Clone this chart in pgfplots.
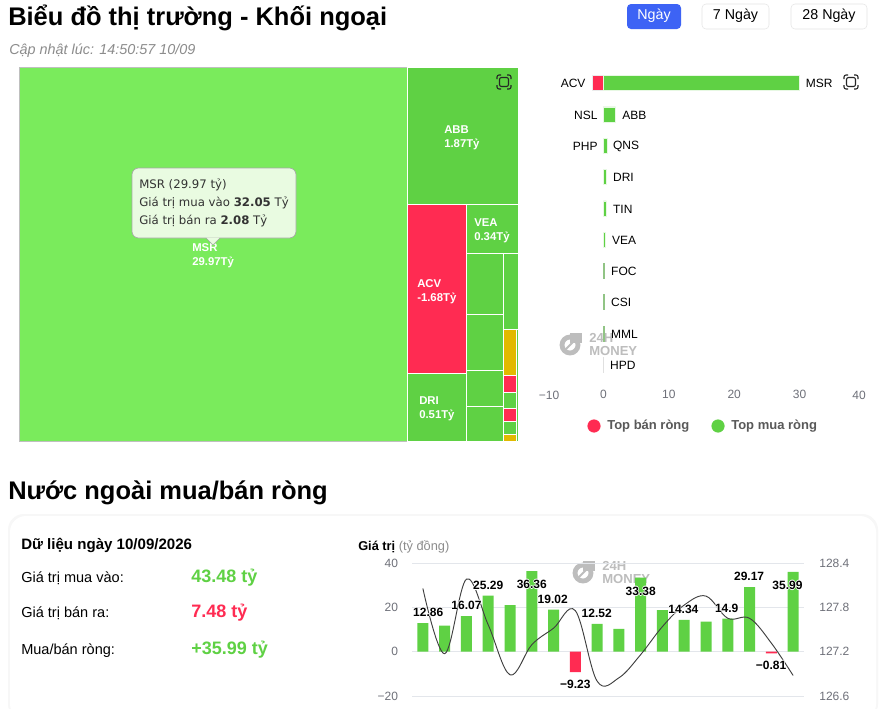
\documentclass[border=0pt]{standalone}
\usepackage{pgfplots}
\pgfplotsset{compat=1.18}
\usepackage{fontspec}
\setmainfont{Liberation Sans}
\newfontfamily\djv{DejaVu Sans}
\definecolor{lg}{HTML}{7AEB5C}
\definecolor{mg}{HTML}{5FD144}
\definecolor{rd}{HTML}{FF2B52}
\definecolor{yl}{HTML}{E2B900}
\definecolor{tickg}{HTML}{6E7079}
\definecolor{gridg}{HTML}{E3E6EB}
\definecolor{wm}{HTML}{BDBDBD}
\definecolor{btn}{HTML}{3D63F5}
\definecolor{tip}{HTML}{E9FBE1}
\newcommand\fsz[1]{\fontsize{#1}{#1}\selectfont}
\newcommand\tile[5]{\addplot[fill=#5,draw=white,line width=0.5pt] coordinates {(#1,#3) (#2,#3) (#2,#4) (#1,#4)} --cycle;}
\newcommand\HL[3]{%
\node[white,font=\fsz{9}\bfseries] at (axis cs:#1,#2) [xshift=.55pt] {#3};
\node[white,font=\fsz{9}\bfseries] at (axis cs:#1,#2) [xshift=-.55pt] {#3};
\node[white,font=\fsz{9}\bfseries] at (axis cs:#1,#2) [yshift=.55pt] {#3};
\node[white,font=\fsz{9}\bfseries] at (axis cs:#1,#2) [yshift=-.55pt] {#3};
\node[black,font=\fsz{9}\bfseries] at (axis cs:#1,#2) {#3};}
\newcommand\icon[2]{%
\begin{scope}[shift={(#1,#2)},draw=black!85,line width=0.8pt]
\draw[rounded corners=1.5] (-7,-3)--(-7,-7)--(-3,-7) (3,-7)--(7,-7)--(7,-3) (7,3)--(7,7)--(3,7) (-3,7)--(-7,7)--(-7,3);
\draw[rounded corners=1.5] (-4.5,-4.5) rectangle (4.5,4.5);
\end{scope}}
\newcommand\wmark[2]{%
\begin{scope}[shift={(#1,#2)}]
\draw[wm,line width=3.6pt] (12,12) circle (8);
\fill[wm] (12,0) rectangle (24,10);
\fill[white] (3,0) -- (8,0) -- (0,6) --cycle;
\fill[white] (20,24) -- (24,24) -- (24,17) --cycle;
\draw[wm,line width=1.4pt] (8,16)--(17,7);
\node[wm,anchor=west,inner sep=0pt,font=\fsz{9.8}\bfseries] at (31,5) {24H};
\node[wm,anchor=west,inner sep=0pt,font=\fsz{9.8}\bfseries] at (31,18) {MONEY};
\end{scope}}
\begin{document}
\begin{tikzpicture}
% ---------- background, headings
\begin{scope}[x=0.75pt,y=-0.75pt]
\path[use as bounding box,fill=white] (0,0) rectangle (879,708);
\fill[black!3,rounded corners=12] (8,514) rectangle (878,720);
\fill[white,rounded corners=12] (10,516) rectangle (876,720);
\node[anchor=base west,inner sep=0pt,font=\fsz{19.1}\bfseries] at (8,25) {Biểu đồ thị trường - Khối ngoại};
\node[anchor=base west,inner sep=0pt,font=\fsz{10.8}\itshape,text=black!45] at (9,54) {Cập nhật lúc: 14:50:57 10/09};
\fill[btn,rounded corners=3] (627,4) rectangle (681,29);
\draw[black!10,rounded corners=3,fill=white] (702,4) rectangle (769,29);
\draw[black!10,rounded corners=3,fill=white] (791,4) rectangle (867,29);
\node[white,font=\fsz{10.7}] at (654,16) {Ngày};
\node[font=\fsz{10.7}] at (735.5,16) {7 Ngày};
\node[font=\fsz{10.7}] at (829,16) {28 Ngày};
\node[anchor=base west,inner sep=0pt,font=\fsz{19.1}\bfseries] at (8,499) {Nước ngoài mua/bán ròng};
\node[anchor=base west,inner sep=0pt,font=\fsz{11.3}\bfseries] at (21,549) {Dữ liệu ngày 10/09/2026};
\node[anchor=base west,inner sep=0pt,font=\fsz{10.9}] at (21,582) {Giá trị mua vào:};
\node[anchor=base west,inner sep=0pt,font=\fsz{10.9}] at (21,617) {Giá trị bán ra:};
\node[anchor=base west,inner sep=0pt,font=\fsz{10.9}] at (21,654) {Mua/bán ròng:};
\node[anchor=base west,inner sep=0pt,font=\fsz{13.5}\bfseries,text=mg] at (191,582) {43.48 tỷ};
\node[anchor=base west,inner sep=0pt,font=\fsz{13.5}\bfseries,text=rd] at (191,617) {7.48 tỷ};
\node[anchor=base west,inner sep=0pt,font=\fsz{13.5}\bfseries,text=mg] at (191,654) {+35.99 tỷ};
\node[anchor=base west,inner sep=0pt,font=\fsz{9.6}] at (358,550) {\textbf{Giá trị} \textcolor{black!45}{(tỷ đồng)}};
\wmark{558}{333}
\wmark{571}{561}
\end{scope}
% ---------- treemap
\begin{axis}[at={(19*0.75pt,-441*0.75pt)},anchor=south west,scale only axis,
  width=500*0.75pt,height=374*0.75pt,hide axis,xmin=19,xmax=519,ymin=67,ymax=441,y dir=reverse,clip=false]
\addplot[fill=lg,draw=black!25,line width=0.4pt] coordinates {(19,67) (407.5,67) (407.5,441) (19,441)} --cycle;
\tile{407.5}{518.5}{67}{204.5}{mg}
\tile{407.5}{466.5}{204.5}{373.5}{rd}
\tile{407.5}{466.5}{373.5}{441}{mg}
\tile{466.5}{518.5}{204.5}{253.5}{mg}
\tile{466.5}{503.5}{253.5}{314.5}{mg}
\tile{466.5}{503.5}{314.5}{370.5}{mg}
\tile{466.5}{503.5}{370.5}{406.5}{mg}
\tile{466.5}{503.5}{406.5}{441}{mg}
\tile{503.5}{518.5}{253.5}{329.5}{mg}
\tile{503.5}{516.5}{329.5}{375.5}{yl}
\tile{503.5}{516.5}{375.5}{392.5}{rd}
\tile{503.5}{516.5}{392.5}{408.5}{mg}
\tile{503.5}{516.5}{408.5}{421.5}{rd}
\tile{503.5}{516.5}{421.5}{434.5}{mg}
\tile{503.5}{516.5}{434.5}{441}{yl}
\tile{516.5}{518.5}{329.5}{441}{mg}
\end{axis}
% ---------- bar chart
\begin{axis}[at={(538*0.75pt,-380.5*0.75pt)},anchor=south west,scale only axis,
  width=327*0.75pt,height=313*0.75pt,xmin=-10,xmax=40,ymin=-0.5,ymax=9.5,y dir=reverse,
  axis line style={draw=none},major tick style={draw=none},clip=false,
  xtick={0,10,20,30},ytick=\empty,
  xticklabel style={font=\fsz{9},text=tickg,yshift=-3.5pt},
  /pgf/number format/assume math mode=true,
  xbar,bar width=15*0.75pt,bar shift=0pt]
\addplot[fill=rd,draw=black!8,line width=0.5pt] coordinates {(-1.68,0) (-0.05,1) (-0.05,2)};
\addplot[fill=mg,draw=mg!15!white,line width=0.4pt] coordinates {(29.97,0) (1.87,1) (0.6,2) (0.51,3) (0.45,4) (0.34,5)};
\addplot[fill=mg,draw=mg!75!black!60,line width=0.5pt] coordinates {(0.15,6) (0.15,7) (0.12,8)};
\addplot[fill=black!12,draw=black!12,line width=0.6pt] coordinates {(0.03,9)};
\def\lb#1#2#3{\node[anchor=west,font=\fsz{9},inner sep=0pt,yshift=-.4pt] at (axis cs:#1,#2) {#3};}
\def\lr#1#2#3{\node[anchor=east,font=\fsz{9},inner sep=0pt,yshift=-.4pt] at (axis cs:#1,#2) {#3};}
\lr{-2.7}{0}{ACV} \lb{30.9}{0}{MSR}
\lr{-0.85}{1}{NSL} \lb{2.85}{1}{ABB}
\lr{-0.85}{2}{PHP} \lb{1.45}{2}{QNS}
\lb{1.45}{3}{DRI} \lb{1.45}{4}{TIN} \lb{1.3}{5}{VEA}
\lb{1.15}{6}{FOC} \lb{1.15}{7}{CSI} \lb{1.15}{8}{MML} \lb{1.0}{9}{HPD}
\node[font=\fsz{9},text=tickg] at (axis cs:-8.3,9.97) {−10};
\node[font=\fsz{9},text=tickg] at (axis cs:39.1,9.97) {40};
\end{axis}
% ---------- legend of the bar chart
\begin{axis}[at={(538*0.75pt,-440*0.75pt)},anchor=south west,scale only axis,
  width=327*0.75pt,height=30*0.75pt,xmin=538,xmax=865,ymin=410,ymax=440,y dir=reverse,hide axis,clip=false]
\addplot[only marks,mark=*,mark size=4.7pt,mark options={fill=rd,draw=rd}] coordinates {(594,426)};
\addplot[only marks,mark=*,mark size=4.7pt,mark options={fill=mg,draw=mg}] coordinates {(718,426)};
\node[anchor=west,inner sep=0pt,font=\fsz{9.75}\bfseries,text=black!65] at (axis cs:607,426) {Top bán ròng};
\node[anchor=west,inner sep=0pt,font=\fsz{9.75}\bfseries,text=black!65] at (axis cs:731,426) {Top mua ròng};
\end{axis}
% ---------- bottom chart
\begin{axis}[at={(412*0.75pt,-696*0.75pt)},anchor=south west,scale only axis,
  width=392*0.75pt,height=133*0.75pt,xmin=-0.5,xmax=17.5,ymin=-20,ymax=40,
  axis line style={draw=none},major tick style={draw=none},
  xtick=\empty,ytick={-20,0,20,40},yticklabels={−20,0,20,40},
  ymajorgrids,grid style={gridg,line width=0.7pt},
  yticklabel style={font=\fsz{9},text=tickg,xshift=-7pt},
  clip=false]
\addplot[ybar,bar width=11*0.75pt,bar shift=0pt,fill=mg,draw=none] coordinates {(0,12.86) (1,11.8) (2,16.07) (3,25.29) (4,21) (5,36.36) (6,19.02) (8,12.52) (9,10.3) (10,33.38) (11,18.8) (12,14.34) (13,13.6) (14,14.9) (15,29.17) (17,35.99)};
\addplot[ybar,bar width=11*0.75pt,bar shift=0pt,fill=rd,draw=none] coordinates {(7,-9.23) (16,-0.81)};
\end{axis}
\begin{axis}[at={(412*0.75pt,-696*0.75pt)},anchor=south west,scale only axis,
  width=392*0.75pt,height=133*0.75pt,xmin=-0.5,xmax=17.5,ymin=126.6,ymax=128.4,
  axis x line=none,axis y line*=right,axis line style={draw=none},major tick style={draw=none},
  ytick={126.6,127.2,127.8,128.4},
  /pgf/number format/assume math mode=true,
  /pgf/number format/.cd,fixed,fixed zerofill,precision=1,/pgfplots/.cd,
  yticklabel style={font=\fsz{9},text=tickg,xshift=8pt},clip=false]
\addplot[black!75,line width=0.7pt,smooth,tension=0.6,no markers] coordinates {
(0,128.055) (1,127.173) (2,128.181) (3,127.563) (4,126.887) (5,127.294) (6,127.518) (7,127.755) (8,126.801) (9,126.846) (10,127.16) (11,127.54) (12,127.831) (13,127.952) (14,127.652) (15,127.652) (16,127.316) (17,126.878)};
\end{axis}
\begin{axis}[at={(412*0.75pt,-696*0.75pt)},anchor=south west,scale only axis,
  width=392*0.75pt,height=133*0.75pt,xmin=-0.5,xmax=17.5,ymin=-20,ymax=40,hide axis,clip=false]
\HL{0.245}{17.76}{12.86}
\HL{2}{21.04}{16.07}
\HL{3}{30}{25.29}
\HL{5}{30.45}{36.36}
\HL{5.96}{23.73}{19.02}
\HL{7}{-14.78}{−9.23}
\HL{7.98}{17.46}{12.52}
\HL{10}{27.16}{33.38}
\HL{11.96}{19.1}{14.34}
\HL{13.95}{19.55}{14.9}
\HL{14.98}{34.03}{29.17}
\HL{15.99}{-6.27}{−0.81}
\HL{16.74}{29.85}{35.99}
\end{axis}
% ---------- foreground
\begin{scope}[x=0.75pt,y=-0.75pt]
\icon{504}{82}
\icon{851}{82}
\def\tl#1#2#3{\node[anchor=west,inner sep=0pt,text=white,font=\fsz{8.5}\bfseries,yshift=-.6pt] at (#1,#2) {#3};}
\tl{444}{129}{ABB} \tl{444}{144}{1.87Tỷ}
\tl{474}{222}{VEA} \tl{474}{237}{0.34Tỷ}
\tl{417}{283}{ACV} \tl{417}{298}{-1.68Tỷ}
\tl{419}{400}{DRI} \tl{419}{415}{0.51Tỷ}
\tl{192}{247}{MSR} \tl{192}{262}{29.97Tỷ}
\draw[black!35,fill=tip,line width=0.5pt,rounded corners=5] (132,168) rectangle (296,238);
\fill[tip] (206,237.5)--(220,237.5)--(213,245)--cycle;
\draw[black!35,line width=0.5pt] (206,238)--(213,245)--(220,238);
\def\tp#1#2{\node[anchor=west,inner sep=0pt,text=black!80,font=\fsz{8.8}\djv] at (139,#1) {#2};}
\tp{185}{MSR (29.97 tỷ)}
\tp{203}{Giá trị mua vào \textbf{32.05} Tỷ}
\tp{221}{Giá trị bán ra \textbf{2.08} Tỷ}
\end{scope}
\end{tikzpicture}
\end{document}
